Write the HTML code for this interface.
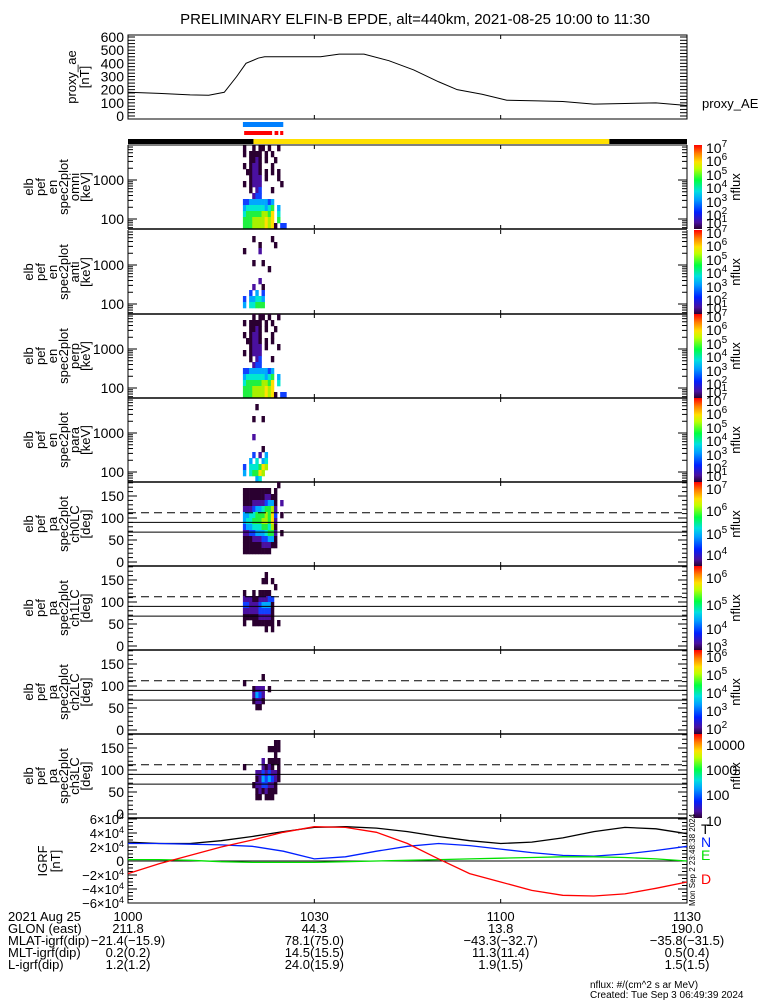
<!DOCTYPE html>
<html><head><meta charset="utf-8"><style>
html,body{margin:0;padding:0;background:#fff;}
svg{display:block;font-family:"Liberation Sans",sans-serif;}
</style></head><body>
<svg id="chart" width="775" height="1000" viewBox="0 0 775 1000" xmlns="http://www.w3.org/2000/svg">
<text x="415" y="24" font-size="15" text-anchor="middle">PRELIMINARY ELFIN-B EPDE, alt=440km, 2021-08-25 10:00 to 11:30</text>
<g id="g"></g>
</svg>
<script>
// ---- data ----
const aeTimes = [0,5,10,13,15.5,17.5,19,21,22,26,31,34,38,42,46,50,53,57,61,66,70,75,80,85,90];
const aeValues = [180,172,160,158,180,300,400,440,450,450,450,470,470,420,350,260,200,165,120,115,110,90,95,100,80];
const blueBar = [[18.5,25]];
const redBar = [[18.7,23.2],[23.6,24.2],[24.5,25]];
const statusBar = [[0,20.2,'#000'],[20.2,77.5,'#ffe000'],[77.5,90,'#000']];
const igrfTimes = [0,5,10,15,20,25,30,35,40,45,50,55,60,65,70,75,80,85,90];
const igrfT = [2.7,2.5,2.5,2.9,3.5,4.2,4.8,4.9,4.7,4.2,3.5,2.9,2.5,2.7,3.3,4.2,4.8,4.6,3.9];
const igrfN = [2.5,2.5,2.4,2.3,2.1,1.4,0.3,0.6,1.4,2.1,2.5,2.2,1.7,1.2,0.8,0.7,1.0,1.5,2.1];
const igrfE = [0.2,0.2,0.1,-0.1,-0.2,-0.2,-0.2,-0.1,0.0,0.1,0.2,0.3,0.4,0.5,0.6,0.6,0.5,0.3,0.0];
const igrfD = [-1.8,-0.4,0.8,2.0,3.0,4.1,4.9,4.8,4.1,2.5,0.3,-1.8,-3.0,-4.2,-4.9,-5.0,-4.7,-3.9,-3.0];
const colStart = 18.5, colStep = 0.5;
const spec1 = ["1..1.11.1..1..","1.1111.1.1....","..1121.1..1...","1.1221...1....",".11221.1.1.1..","..1222.1...1..","1.1222......1.","..1.23...1....","...233........","3344444434....","4555555456.4..","5666667768.5..","6667777878.6..","66677778781.33"];
const spec2 = ["..............","...1.....1....",".....1....1...","1....2........","..............","...1..1.......","........1.....","..............",".....2........","...2..1.......","..3.4.3.......","3.44554.......","4.55666.......","..............."];
const spec3 = ["...1.11.1..1..","1.1111.1.1....","..1121.1..1...","1.1221...1....",".11221.1.1....","..1222.1...1..","1.1222........","..1.23...1....","...233........","3344444434....","4555555456.4..","5666667768.5..","6667777878....","66677778781.33"];
const spec4 = ["..............","....1.........","..............","...1..1.......","..............","..............","...2..........","..............","......1.......","...3.2.4......","..4.5.45......","3.555687......","4.56687.......","....45........"];
const pa0 = ["...........1..","111111111.1...","11111112211...","11122223441.2.","22234456672...","44556667683.1.","45566677682...","34455566571...","22334445662.1.","11122233441...","11111122211...","111111111.....","..............","..............."];
const pa1 = ["..............",".......1......","......11.1....","..........1...","1..1.1111.....","2221122233....","3322234441....","2222233331....","1111122221....","1..1111111.1..",".......1.1....","..............","..............","..............."];
const pa2 = ["..............","..............","..............","..............","......1.......","1.............","...1222.1.....","...2432.......","...1221.......","....11........","..............","..............","..............","..............."];
const pa3 = ["..............","..........11..","........1111..","..........1...","......2.1111..","1.....2121.1..","....22323221..","....12434321..","...12233221...","....1212111...","....11.111....","..............","..............","..............."];

// ---- helpers ----
const NS='http://www.w3.org/2000/svg';
const root=document.getElementById('g');
function mk(tag,attrs,parent){const e=document.createElementNS(NS,tag);for(const k in attrs)e.setAttribute(k,attrs[k]);(parent||root).appendChild(e);return e;}
const X0=128,X1=687;
function xOf(t){return X0+t*(X1-X0)/90;}
const levelColors=['none','#2a0030','#4a10a0','#1040ff','#00a8ff','#00e8d0','#20f040','#a8f000','#ffe000','#ff8000'];
const rainbow=[[0,'#2a0030'],[0.08,'#4a10a0'],[0.2,'#0020ff'],[0.35,'#00a0ff'],[0.45,'#00e0e0'],[0.58,'#00ff40'],[0.72,'#c0ff00'],[0.8,'#ffe000'],[0.9,'#ff8000'],[1,'#ff0000']];
const defs=mk('defs',{});
const grad=mk('linearGradient',{id:'rb',x1:0,y1:1,x2:0,y2:0},defs);
rainbow.forEach(s=>mk('stop',{offset:s[0],'stop-color':s[1]},grad));

function txt(x,y,s,size,anchor,parent,color){const e=mk('text',{x:x,y:y,'font-size':size||13,'text-anchor':anchor||'start',fill:color||'#000'},parent);e.textContent=s;return e;}
function rotLabel(lines,cy,xs,parent){lines.forEach((l,i)=>{const e=mk('text',{x:0,y:0,'font-size':13,'text-anchor':'middle',transform:`translate(${xs[i]},${cy}) rotate(-90)`},parent);e.textContent=l;});}

// ---- AE panel ----
{const top=35,bot=119;const y=v=>116-(v)*(116-37)/600;
const p=mk('g',{});


mk('rect',{x:X0,y:top,width:X1-X0,height:bot-top,fill:'none',stroke:'#000','stroke-width':1},p);
for(let v=0;v<=600;v+=25){mk('line',{x1:X0,x2:X0+7,y1:y(v),y2:y(v),stroke:'#000'},p);mk('line',{x1:X1,x2:X1-7,y1:y(v),y2:y(v),stroke:'#000'},p);}
[0,100,200,300,400,500,600].forEach(v=>txt(124,y(v)+5,String(v),14,'end',p));
[30,60].forEach(t=>{mk('line',{x1:xOf(t),x2:xOf(t),y1:bot,y2:bot-4,stroke:'#000'},p);mk('line',{x1:xOf(t),x2:xOf(t),y1:top,y2:top+4,stroke:'#000'},p);});
const line=mk('polyline',{points:aeTimes.map((t,i)=>xOf(t)+','+y(aeValues[i])).join(' '),fill:'none',stroke:'#000'},p);


rotLabel(['proxy_ae','[nT]'],77,[76,89],p);
txt(702,108,'proxy_AE',13,'start',p);}

// ---- bars ----
blueBar.forEach(b=>{const r=mk('rect',{x:xOf(b[0]),y:122,width:xOf(b[1])-xOf(b[0]),height:5,fill:'#0080ff'});

});
redBar.forEach(b=>{const r=mk('rect',{x:xOf(b[0]),y:131,width:xOf(b[1])-xOf(b[0]),height:4,fill:'#ff0000'});

});
statusBar.forEach(b=>{const r=mk('rect',{x:xOf(b[0]),y:139,width:xOf(b[1])-xOf(b[0]),height:5,fill:b[2]});

});

// ---- spectrogram panels ----
const panels=[
 {top:145,grid:spec1,kind:'en',lab:['elb','pef','en','spec2plot','omni','[keV]'],cb:[[7,153],[6,166],[5,180],[4,193],[3,207],[2,220],[1,228]]},
 {top:230,grid:spec2,kind:'en',lab:['elb','pef','en','spec2plot','anti','[keV]'],cb:[[7,238],[6,251],[5,265],[4,278],[3,292],[2,305],[1,313]]},
 {top:314,grid:spec3,kind:'en',lab:['elb','pef','en','spec2plot','perp','[keV]'],cb:[[7,322],[6,335],[5,349],[4,362],[3,376],[2,389],[1,397]]},
 {top:398,grid:spec4,kind:'en',lab:['elb','pef','en','spec2plot','para','[keV]'],cb:[[7,406],[6,419],[5,433],[4,446],[3,460],[2,473],[1,481]]},
 {top:482,grid:pa0,kind:'pa',lab:['elb','pef','pa','spec2plot','ch0LC','[deg]'],cb:[[7,494],[6,516],[5,539],[4,560]]},
 {top:566,grid:pa1,kind:'pa',lab:['elb','pef','pa','spec2plot','ch1LC','[deg]'],cb:[[6,583],[5,610],[4,634],[3,652]]},
 {top:650,grid:pa2,kind:'pa',lab:['elb','pef','pa','spec2plot','ch2LC','[deg]'],cb:[[6,662],[5,680],[4,698],[3,716],[2,734]]},
 {top:734,grid:pa3,kind:'pa',lab:['elb','pef','pa','spec2plot','ch3LC','[deg]'],cb:[['10000',750],['1000',775],['100',800],['10',826]]}
];
panels.forEach((P,pi)=>{const top=P.top,bot=top+84;
 const p=mk('g',{});
 
 
 const rows=P.grid.length,rh=84/rows;
 P.grid.forEach((row,ri)=>{for(let ci=0;ci<row.length;ci++){const c=row[ci];if(c==='.')continue;const lv=+c;if(!lv)continue;
  const t=colStart+ci*colStep;
  const cell=mk('rect',{x:xOf(t),y:top+ri*rh,width:xOf(t+colStep)-xOf(t)+0.3,height:rh+0.3,fill:levelColors[lv]},p);
  
  }});
 mk('line',{x1:X0,x2:X1,y1:bot,y2:bot,stroke:'#000','stroke-width':1.5},p);
 mk('line',{x1:X0,x2:X0,y1:top,y2:bot,stroke:'#000'},p);
 mk('line',{x1:X1,x2:X1,y1:top,y2:bot,stroke:'#000'},p);
 [30,60].forEach(t=>{mk('line',{x1:xOf(t),x2:xOf(t),y1:bot,y2:bot-4,stroke:'#000'},p);mk('line',{x1:xOf(t),x2:xOf(t),y1:top,y2:top+4,stroke:'#000'},p);});
 if(P.kind==='en'){const yE=e=>top+35+ (3-Math.log10(e))*39;
  for(let d=10;d<=10000;d*=10)for(let m=1;m<10;m++){const e=d*m;const yy=yE(e);if(yy<top||yy>bot)continue;const L=m===1?9:5;
   mk('line',{x1:X0,x2:X0+L,y1:yy,y2:yy,stroke:'#000'},p);mk('line',{x1:X1,x2:X1-L,y1:yy,y2:yy,stroke:'#000'},p);}
  txt(124,yE(1000)+5,'1000',14,'end',p);txt(124,yE(100)+5,'100',14,'end',p);
 } else {const yA=a=>top+80-a*0.44;
  for(let a=0;a<=180;a+=10){const L=a%50===0?9:5;mk('line',{x1:X0,x2:X0+L,y1:yA(a),y2:yA(a),stroke:'#000'},p);mk('line',{x1:X1,x2:X1-L,y1:yA(a),y2:yA(a),stroke:'#000'},p);}
  [0,50,100,150].forEach(a=>txt(124,yA(a)+5,String(a),14,'end',p));
  mk('line',{x1:X0,x2:X1,y1:yA(112),y2:yA(112),stroke:'#000','stroke-dasharray':'8,5'},p);
  mk('line',{x1:X0,x2:X1,y1:yA(90),y2:yA(90),stroke:'#000'},p);
  mk('line',{x1:X0,x2:X1,y1:yA(68),y2:yA(68),stroke:'#000'},p);
 }
 rotLabel(P.lab,top+42,[33,45,57,68,79,90],p);
 const cbr=mk('rect',{x:694,y:top,width:8,height:84,fill:'url(#rb)'},p);
 
 
 P.cb.forEach(c=>{const e=mk('text',{x:706,y:c[1],'font-size':14},p);
  if(typeof c[0]==='string'){e.textContent=c[0];}else{e.textContent='10';const s=mk('tspan',{dy:-6,'font-size':10},e);s.textContent=String(c[0]);}});
 const nl=mk('text',{x:0,y:0,'font-size':13,'text-anchor':'middle',transform:`translate(740,${top+42}) rotate(-90)`},p);nl.textContent='nflux';
});
mk('line',{x1:X0,x2:X1,y1:145,y2:145,stroke:'#000'});

// ---- IGRF panel ----
{const top=818,bot=903;const y=v=>861-v*7;
 const p=mk('g',{});
 
 
 mk('rect',{x:X0,y:top,width:X1-X0,height:bot-top,fill:'none',stroke:'#000'},p);
 mk('line',{x1:X0,x2:X1,y1:y(0),y2:y(0),stroke:'#000'},p);
 for(let v=-6;v<=6;v+=0.5){const L=v%2===0?9:5;mk('line',{x1:X0,x2:X0+L,y1:y(v),y2:y(v),stroke:'#000'},p);mk('line',{x1:X1,x2:X1-L,y1:y(v),y2:y(v),stroke:'#000'},p);}
 [6,4,2,-2,-4,-6].forEach(v=>{const e=mk('text',{x:124,y:y(v)+5,'font-size':13,'text-anchor':'end'},p);e.textContent=(v<0?'\u2212':'')+Math.abs(v)+'\u00d710';const s=mk('tspan',{dy:-5,'font-size':9},e);s.textContent='4';});
 txt(124,y(0)+5,'0',14,'end',p);
 [30,60].forEach(t=>{mk('line',{x1:xOf(t),x2:xOf(t),y1:bot,y2:bot-4,stroke:'#000'},p);mk('line',{x1:xOf(t),x2:xOf(t),y1:top,y2:top+4,stroke:'#000'},p);});
 const series=[[igrfT,'#000','igrf-t-line'],[igrfN,'#0020ff','igrf-n-line'],[igrfE,'#00e000','igrf-e-line'],[igrfD,'#ff0000','igrf-d-line']];
 series.forEach(s=>{const l=mk('polyline',{points:igrfTimes.map((t,i)=>xOf(t)+','+y(s[0][i])).join(' '),fill:'none',stroke:s[1],'stroke-width':1.3},p);
  
  });
 rotLabel(['IGRF','[nT]'],861,[47,60],p);
 txt(701,834,'T',14,'start',p,'#000');txt(701,847,'N',14,'start',p,'#0020ff');txt(701,860,'E',14,'start',p,'#00e000');txt(701,884,'D',14,'start',p,'#ff0000');
 const st=mk('text',{x:0,y:0,'font-size':8,'text-anchor':'middle',transform:'translate(695,860) rotate(-90)'},p);st.textContent='Mon Sep  2 23:48:38 2024';
}

// ---- bottom annotation ----
{const p=mk('g',{});
 
 
 const labs=['2021 Aug 25','GLON (east)','MLAT-igrf(dip)','MLT-igrf(dip)','L-igrf(dip)'];
 const cols=[['1000','211.8','\u221221.4(\u221215.9)','0.2(0.2)','1.2(1.2)'],['1030','44.3','78.1(75.0)','14.5(15.5)','24.0(15.9)'],['1100','13.8','\u221243.3(\u221232.7)','11.3(11.4)','1.9(1.5)'],['1130','190.0','\u221235.8(\u221231.5)','0.5(0.4)','1.5(1.5)']];
 labs.forEach((l,i)=>txt(8,921+i*12,l,13,'start',p));
 cols.forEach((c,ci)=>{c.forEach((v,i)=>txt(xOf(ci*30),921+i*12,v,13,'middle',p));});
 txt(590,988,'nflux: #/(cm^2 s ar MeV)',10,'start',p);
 txt(590,998,'Created: Tue Sep  3 06:49:39 2024',10,'start',p);
}
</script>
</body></html>
